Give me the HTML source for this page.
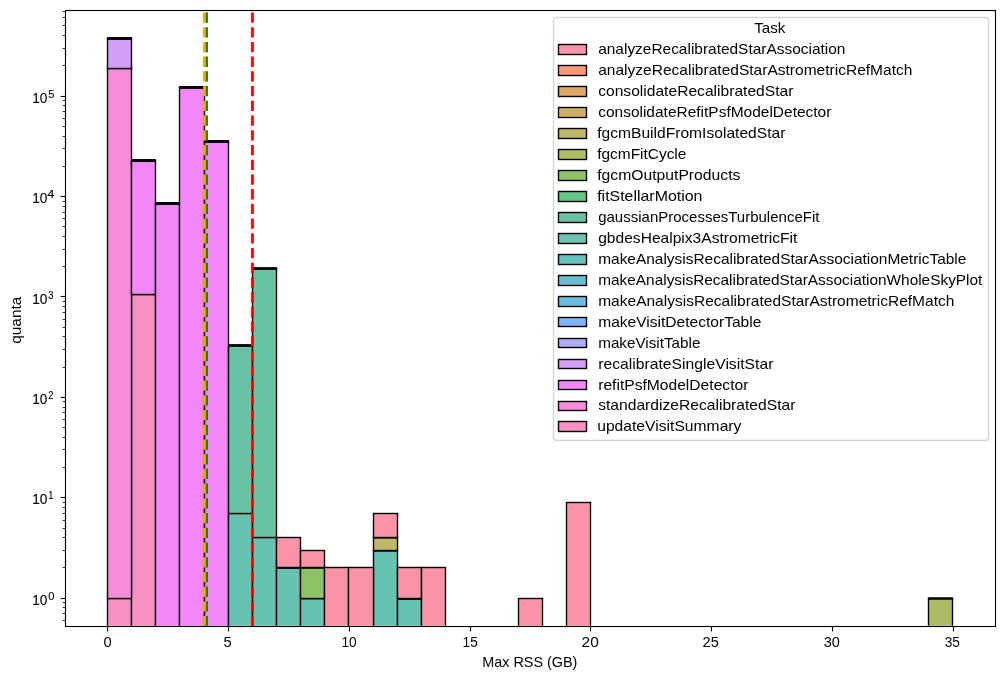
<!DOCTYPE html>
<html><head><meta charset="utf-8"><style>
html,body{margin:0;padding:0;background:#fff;}
body{width:1004px;height:679px;overflow:hidden;font-family:"Liberation Sans", sans-serif;}
svg{display:block;will-change:transform;}
</style></head><body>
<svg width="1004" height="679" viewBox="0 0 1004 679">
<rect width="1004" height="679" fill="#fff"/>
<defs><clipPath id="ac"><rect x="64.64" y="9.72" width="930.00" height="616.00"/></clipPath></defs>
<g clip-path="url(#ac)" stroke="#000" stroke-width="1.389">
<rect x="107.5" y="598.5" width="24.0" height="34.0" fill="rgb(248,144,195)"/>
<rect x="131.5" y="294.5" width="24.0" height="338.0" fill="rgb(248,144,195)"/>
<rect x="107.5" y="68.5" width="24.0" height="530.0" fill="rgb(248,139,220)"/>
<rect x="131.5" y="160.5" width="24.0" height="134.0" fill="rgb(243,135,247)"/>
<rect x="155.5" y="203.5" width="24.0" height="429.0" fill="rgb(243,135,247)"/>
<rect x="179.5" y="87.5" width="25.0" height="545.0" fill="rgb(243,135,247)"/>
<rect x="204.5" y="141.5" width="24.0" height="491.0" fill="rgb(243,135,247)"/>
<rect x="107.5" y="38.5" width="24.0" height="30.0" fill="rgb(211,158,247)"/>
<rect x="228.5" y="513.5" width="24.0" height="119.0" fill="rgb(104,194,180)"/>
<rect x="252.5" y="537.5" width="24.0" height="95.0" fill="rgb(104,194,180)"/>
<rect x="276.5" y="567.5" width="24.0" height="65.0" fill="rgb(104,194,180)"/>
<rect x="300.5" y="598.5" width="24.0" height="34.0" fill="rgb(104,194,180)"/>
<rect x="373.5" y="550.5" width="24.0" height="82.0" fill="rgb(104,194,180)"/>
<rect x="397.5" y="598.5" width="24.0" height="34.0" fill="rgb(104,194,180)"/>
<rect x="228.5" y="345.5" width="24.0" height="168.0" fill="rgb(103,195,164)"/>
<rect x="252.5" y="268.5" width="24.0" height="269.0" fill="rgb(103,195,164)"/>
<rect x="300.5" y="567.5" width="24.0" height="31.0" fill="rgb(142,194,101)"/>
<rect x="928.5" y="598.5" width="24.0" height="34.0" fill="rgb(172,188,101)"/>
<rect x="373.5" y="537.5" width="24.0" height="13.0" fill="rgb(191,183,101)"/>
<rect x="276.5" y="537.5" width="24.0" height="30.0" fill="rgb(249,148,166)"/>
<rect x="300.5" y="550.5" width="24.0" height="17.0" fill="rgb(249,148,166)"/>
<rect x="324.5" y="567.5" width="24.0" height="65.0" fill="rgb(249,148,166)"/>
<rect x="348.5" y="567.5" width="25.0" height="65.0" fill="rgb(249,148,166)"/>
<rect x="373.5" y="513.5" width="24.0" height="24.0" fill="rgb(249,148,166)"/>
<rect x="397.5" y="567.5" width="24.0" height="31.0" fill="rgb(249,148,166)"/>
<rect x="421.5" y="567.5" width="24.0" height="65.0" fill="rgb(249,148,166)"/>
<rect x="518.5" y="598.5" width="24.0" height="34.0" fill="rgb(249,148,166)"/>
<rect x="566.5" y="502.5" width="24.0" height="130.0" fill="rgb(249,148,166)"/>
<rect x="106.80" y="68.0" width="25.40" height="1" fill="#000" stroke="none"/>
<rect x="107.50" y="69.0" width="24.00" height="1" fill="#000" fill-opacity="0.056" stroke="none"/>
<rect x="106.80" y="38.0" width="25.40" height="1" fill="#000" stroke="none"/>
<rect x="107.15" y="37.0" width="24.70" height="1" fill="#000" fill-opacity="0.980" stroke="none"/>
<rect x="107.15" y="39.0" width="24.70" height="1" fill="#000" fill-opacity="0.980" stroke="none"/>
<rect x="130.80" y="294.0" width="25.40" height="1" fill="#000" stroke="none"/>
<rect x="131.50" y="295.0" width="24.00" height="1" fill="#000" fill-opacity="0.056" stroke="none"/>
<rect x="130.80" y="160.0" width="25.40" height="1" fill="#000" stroke="none"/>
<rect x="131.15" y="159.0" width="24.70" height="1" fill="#000" fill-opacity="0.985" stroke="none"/>
<rect x="131.15" y="161.0" width="24.70" height="1" fill="#000" fill-opacity="0.985" stroke="none"/>
<rect x="154.80" y="203.0" width="25.40" height="1" fill="#000" stroke="none"/>
<rect x="155.15" y="202.0" width="24.70" height="1" fill="#000" fill-opacity="0.985" stroke="none"/>
<rect x="155.15" y="204.0" width="24.70" height="1" fill="#000" fill-opacity="0.985" stroke="none"/>
<rect x="178.80" y="87.0" width="26.40" height="1" fill="#000" stroke="none"/>
<rect x="179.15" y="86.0" width="25.70" height="1" fill="#000" fill-opacity="0.985" stroke="none"/>
<rect x="179.15" y="88.0" width="25.70" height="1" fill="#000" fill-opacity="0.985" stroke="none"/>
<rect x="203.80" y="141.0" width="25.40" height="1" fill="#000" stroke="none"/>
<rect x="204.15" y="140.0" width="24.70" height="1" fill="#000" fill-opacity="0.985" stroke="none"/>
<rect x="204.15" y="142.0" width="24.70" height="1" fill="#000" fill-opacity="0.985" stroke="none"/>
<rect x="227.80" y="345.0" width="25.40" height="1" fill="#000" stroke="none"/>
<rect x="228.15" y="344.0" width="24.70" height="1" fill="#000" fill-opacity="0.862" stroke="none"/>
<rect x="228.15" y="346.0" width="24.70" height="1" fill="#000" fill-opacity="0.862" stroke="none"/>
<rect x="251.80" y="268.0" width="25.40" height="1" fill="#000" stroke="none"/>
<rect x="252.15" y="267.0" width="24.70" height="1" fill="#000" fill-opacity="0.862" stroke="none"/>
<rect x="252.15" y="269.0" width="24.70" height="1" fill="#000" fill-opacity="0.862" stroke="none"/>
<rect x="275.80" y="567.0" width="25.40" height="1" fill="#000" stroke="none"/>
<rect x="276.50" y="568.0" width="24.00" height="1" fill="#000" fill-opacity="0.862" stroke="none"/>
<rect x="299.80" y="598.0" width="25.40" height="1" fill="#000" stroke="none"/>
<rect x="300.50" y="599.0" width="24.00" height="1" fill="#000" fill-opacity="0.282" stroke="none"/>
<rect x="299.80" y="567.0" width="25.40" height="1" fill="#000" stroke="none"/>
<rect x="300.50" y="568.0" width="24.00" height="1" fill="#000" fill-opacity="0.685" stroke="none"/>
<rect x="372.80" y="550.0" width="25.40" height="1" fill="#000" stroke="none"/>
<rect x="373.50" y="551.0" width="24.00" height="1" fill="#000" fill-opacity="0.586" stroke="none"/>
<rect x="372.80" y="537.0" width="25.40" height="1" fill="#000" stroke="none"/>
<rect x="373.50" y="538.0" width="24.00" height="1" fill="#000" fill-opacity="0.455" stroke="none"/>
<rect x="396.80" y="598.0" width="25.40" height="1" fill="#000" stroke="none"/>
<rect x="397.50" y="599.0" width="24.00" height="1" fill="#000" fill-opacity="0.862" stroke="none"/>
<rect x="927.80" y="598.0" width="25.40" height="1" fill="#000" stroke="none"/>
<rect x="928.15" y="597.0" width="24.70" height="1" fill="#000" fill-opacity="0.685" stroke="none"/>
<rect x="928.15" y="599.0" width="24.70" height="1" fill="#000" fill-opacity="0.685" stroke="none"/>
</g>
<g clip-path="url(#ac)" stroke-width="2.778" stroke-dasharray="10.278 4.444" fill="none">
<line x1="206.5" y1="626.32" x2="206.5" y2="9.72" stroke="#008000"/>
<line x1="204.5" y1="626.32" x2="204.5" y2="9.72" stroke="#FFA500"/>
<line x1="252.5" y1="626.32" x2="252.5" y2="9.72" stroke="#FF0000"/>
</g>
<g stroke="#000" stroke-width="1.111" fill="none" stroke-linecap="square">
<rect x="65.5" y="10.5" width="930.0" height="616.0"/>
</g>
<g stroke="#000" stroke-width="1.111">
<line x1="107.5" y1="626.5" x2="107.5" y2="631.36"/>
<line x1="228.5" y1="626.5" x2="228.5" y2="631.36"/>
<line x1="349.5" y1="626.5" x2="349.5" y2="631.36"/>
<line x1="470.5" y1="626.5" x2="470.5" y2="631.36"/>
<line x1="590.5" y1="626.5" x2="590.5" y2="631.36"/>
<line x1="711.5" y1="626.5" x2="711.5" y2="631.36"/>
<line x1="832.5" y1="626.5" x2="832.5" y2="631.36"/>
<line x1="953.5" y1="626.5" x2="953.5" y2="631.36"/>
<line x1="65.5" y1="598.5" x2="60.64" y2="598.5"/>
<line x1="65.5" y1="497.5" x2="60.64" y2="497.5"/>
<line x1="65.5" y1="397.5" x2="60.64" y2="397.5"/>
<line x1="65.5" y1="296.5" x2="60.64" y2="296.5"/>
<line x1="65.5" y1="196.5" x2="60.64" y2="196.5"/>
<line x1="65.5" y1="96.5" x2="60.64" y2="96.5"/>
</g>
<g stroke="#000" stroke-width="0.833">
<line x1="65.5" y1="620.5" x2="62.72" y2="620.5"/>
<line x1="65.5" y1="613.5" x2="62.72" y2="613.5"/>
<line x1="65.5" y1="607.5" x2="62.72" y2="607.5"/>
<line x1="65.5" y1="602.5" x2="62.72" y2="602.5"/>
<line x1="65.5" y1="567.5" x2="62.72" y2="567.5"/>
<line x1="65.5" y1="550.5" x2="62.72" y2="550.5"/>
<line x1="65.5" y1="537.5" x2="62.72" y2="537.5"/>
<line x1="65.5" y1="528.5" x2="62.72" y2="528.5"/>
<line x1="65.5" y1="520.5" x2="62.72" y2="520.5"/>
<line x1="65.5" y1="513.5" x2="62.72" y2="513.5"/>
<line x1="65.5" y1="507.5" x2="62.72" y2="507.5"/>
<line x1="65.5" y1="502.5" x2="62.72" y2="502.5"/>
<line x1="65.5" y1="467.5" x2="62.72" y2="467.5"/>
<line x1="65.5" y1="449.5" x2="62.72" y2="449.5"/>
<line x1="65.5" y1="437.5" x2="62.72" y2="437.5"/>
<line x1="65.5" y1="427.5" x2="62.72" y2="427.5"/>
<line x1="65.5" y1="419.5" x2="62.72" y2="419.5"/>
<line x1="65.5" y1="412.5" x2="62.72" y2="412.5"/>
<line x1="65.5" y1="407.5" x2="62.72" y2="407.5"/>
<line x1="65.5" y1="401.5" x2="62.72" y2="401.5"/>
<line x1="65.5" y1="367.5" x2="62.72" y2="367.5"/>
<line x1="65.5" y1="349.5" x2="62.72" y2="349.5"/>
<line x1="65.5" y1="336.5" x2="62.72" y2="336.5"/>
<line x1="65.5" y1="327.5" x2="62.72" y2="327.5"/>
<line x1="65.5" y1="319.5" x2="62.72" y2="319.5"/>
<line x1="65.5" y1="312.5" x2="62.72" y2="312.5"/>
<line x1="65.5" y1="306.5" x2="62.72" y2="306.5"/>
<line x1="65.5" y1="301.5" x2="62.72" y2="301.5"/>
<line x1="65.5" y1="266.5" x2="62.72" y2="266.5"/>
<line x1="65.5" y1="249.5" x2="62.72" y2="249.5"/>
<line x1="65.5" y1="236.5" x2="62.72" y2="236.5"/>
<line x1="65.5" y1="226.5" x2="62.72" y2="226.5"/>
<line x1="65.5" y1="218.5" x2="62.72" y2="218.5"/>
<line x1="65.5" y1="212.5" x2="62.72" y2="212.5"/>
<line x1="65.5" y1="206.5" x2="62.72" y2="206.5"/>
<line x1="65.5" y1="201.5" x2="62.72" y2="201.5"/>
<line x1="65.5" y1="166.5" x2="62.72" y2="166.5"/>
<line x1="65.5" y1="148.5" x2="62.72" y2="148.5"/>
<line x1="65.5" y1="136.5" x2="62.72" y2="136.5"/>
<line x1="65.5" y1="126.5" x2="62.72" y2="126.5"/>
<line x1="65.5" y1="118.5" x2="62.72" y2="118.5"/>
<line x1="65.5" y1="111.5" x2="62.72" y2="111.5"/>
<line x1="65.5" y1="105.5" x2="62.72" y2="105.5"/>
<line x1="65.5" y1="100.5" x2="62.72" y2="100.5"/>
<line x1="65.5" y1="65.5" x2="62.72" y2="65.5"/>
<line x1="65.5" y1="48.5" x2="62.72" y2="48.5"/>
<line x1="65.5" y1="35.5" x2="62.72" y2="35.5"/>
<line x1="65.5" y1="25.5" x2="62.72" y2="25.5"/>
<line x1="65.5" y1="17.5" x2="62.72" y2="17.5"/>
<line x1="65.5" y1="11.5" x2="62.72" y2="11.5"/>
</g>
<rect x="553.5" y="17.5" width="435.0" height="423.0" rx="2.78" ry="2.78" fill="rgba(255,255,255,0.8)" stroke="rgb(214,214,214)" stroke-width="1.389"/>
<g stroke="#000" stroke-width="1.389">
<rect x="558.5" y="44.5" width="28.0" height="10.0" fill="rgb(249,148,166)"/>
<rect x="558.5" y="65.5" width="28.0" height="10.0" fill="rgb(249,152,119)"/>
<rect x="558.5" y="86.5" width="28.0" height="10.0" fill="rgb(226,168,101)"/>
<rect x="558.5" y="107.5" width="28.0" height="10.0" fill="rgb(207,176,101)"/>
<rect x="558.5" y="128.5" width="28.0" height="10.0" fill="rgb(191,183,101)"/>
<rect x="558.5" y="149.5" width="28.0" height="10.0" fill="rgb(172,188,101)"/>
<rect x="558.5" y="170.5" width="28.0" height="10.0" fill="rgb(142,194,101)"/>
<rect x="558.5" y="191.5" width="28.0" height="10.0" fill="rgb(101,197,135)"/>
<rect x="558.5" y="212.5" width="28.0" height="10.0" fill="rgb(103,195,164)"/>
<rect x="558.5" y="233.5" width="28.0" height="10.0" fill="rgb(104,194,180)"/>
<rect x="558.5" y="254.5" width="28.0" height="10.0" fill="rgb(104,193,193)"/>
<rect x="558.5" y="275.5" width="28.0" height="10.0" fill="rgb(105,191,206)"/>
<rect x="558.5" y="296.5" width="28.0" height="10.0" fill="rgb(107,189,223)"/>
<rect x="558.5" y="317.5" width="28.0" height="9.0" fill="rgb(126,183,247)"/>
<rect x="558.5" y="338.5" width="28.0" height="9.0" fill="rgb(178,172,247)"/>
<rect x="558.5" y="359.5" width="28.0" height="9.0" fill="rgb(211,158,247)"/>
<rect x="558.5" y="380.5" width="28.0" height="9.0" fill="rgb(243,135,247)"/>
<rect x="558.5" y="401.5" width="28.0" height="9.0" fill="rgb(248,139,220)"/>
<rect x="558.5" y="421.5" width="28.0" height="10.0" fill="rgb(248,144,195)"/>
</g>
<g font-family="&quot;Liberation Sans&quot;, sans-serif" fill="#000">
<g fill="#000">
<text x="103.42" y="647.00" font-size="14.40" textLength="8.20" lengthAdjust="spacingAndGlyphs">0</text>
<text x="223.46" y="647.00" font-size="14.40" textLength="8.20" lengthAdjust="spacingAndGlyphs">5</text>
<text x="341.50" y="647.00" font-size="14.40" textLength="15.20" lengthAdjust="spacingAndGlyphs">10</text>
<text x="462.54" y="647.00" font-size="14.40" textLength="15.20" lengthAdjust="spacingAndGlyphs">15</text>
<text x="581.58" y="647.00" font-size="14.40" textLength="17.20" lengthAdjust="spacingAndGlyphs">20</text>
<text x="702.62" y="647.00" font-size="14.40" textLength="16.20" lengthAdjust="spacingAndGlyphs">25</text>
<text x="823.66" y="647.00" font-size="14.40" textLength="16.20" lengthAdjust="spacingAndGlyphs">30</text>
<text x="944.70" y="647.00" font-size="14.40" textLength="15.20" lengthAdjust="spacingAndGlyphs">35</text>
</g><g fill="#000" stroke="#000" stroke-width="0.1">
<text x="32.20" y="605.00" font-size="14.40" textLength="15.20" lengthAdjust="spacingAndGlyphs">10</text>
<text x="48.20" y="600.00" font-size="10.08" textLength="6.20" lengthAdjust="spacingAndGlyphs">0</text>
<text x="32.20" y="504.00" font-size="14.40" textLength="15.20" lengthAdjust="spacingAndGlyphs">10</text>
<text x="48.20" y="499.00" font-size="10.08" textLength="5.20" lengthAdjust="spacingAndGlyphs">1</text>
<text x="32.20" y="404.00" font-size="14.40" textLength="15.20" lengthAdjust="spacingAndGlyphs">10</text>
<text x="48.20" y="399.00" font-size="10.08" textLength="5.20" lengthAdjust="spacingAndGlyphs">2</text>
<text x="32.20" y="304.00" font-size="14.40" textLength="15.20" lengthAdjust="spacingAndGlyphs">10</text>
<text x="48.20" y="299.00" font-size="10.08" textLength="5.20" lengthAdjust="spacingAndGlyphs">3</text>
<text x="32.20" y="203.00" font-size="14.40" textLength="15.20" lengthAdjust="spacingAndGlyphs">10</text>
<text x="47.20" y="198.00" font-size="10.08" textLength="7.20" lengthAdjust="spacingAndGlyphs">4</text>
<text x="32.20" y="103.00" font-size="14.40" textLength="15.20" lengthAdjust="spacingAndGlyphs">10</text>
<text x="48.20" y="98.00" font-size="10.08" textLength="6.20" lengthAdjust="spacingAndGlyphs">5</text>
</g>
<text x="482.20" y="666.50" font-size="14.40" textLength="95.20" lengthAdjust="spacingAndGlyphs">Max RSS (GB)</text>
<g fill="#000">
<text transform="translate(21.00,343.80) rotate(-90)" font-size="14.40" textLength="47.20" lengthAdjust="spacingAndGlyphs">quanta</text>
</g>
<text x="754.20" y="33.00" font-size="14.40" textLength="31.20" lengthAdjust="spacingAndGlyphs">Task</text>
<text x="598.20" y="54.00" font-size="14.40" textLength="247.20" lengthAdjust="spacingAndGlyphs">analyzeRecalibratedStarAssociation</text>
<text x="598.20" y="75.00" font-size="14.40" textLength="314.20" lengthAdjust="spacingAndGlyphs">analyzeRecalibratedStarAstrometricRefMatch</text>
<text x="598.20" y="96.00" font-size="14.40" textLength="195.20" lengthAdjust="spacingAndGlyphs">consolidateRecalibratedStar</text>
<text x="598.20" y="117.00" font-size="14.40" textLength="233.20" lengthAdjust="spacingAndGlyphs">consolidateRefitPsfModelDetector</text>
<text x="597.20" y="138.00" font-size="14.40" textLength="188.20" lengthAdjust="spacingAndGlyphs">fgcmBuildFromIsolatedStar</text>
<text x="597.20" y="159.00" font-size="14.40" textLength="89.20" lengthAdjust="spacingAndGlyphs">fgcmFitCycle</text>
<text x="597.20" y="180.00" font-size="14.40" textLength="143.20" lengthAdjust="spacingAndGlyphs">fgcmOutputProducts</text>
<text x="597.20" y="201.00" font-size="14.40" textLength="105.20" lengthAdjust="spacingAndGlyphs">fitStellarMotion</text>
<text x="598.20" y="222.00" font-size="14.40" textLength="221.20" lengthAdjust="spacingAndGlyphs">gaussianProcessesTurbulenceFit</text>
<text x="598.20" y="243.00" font-size="14.40" textLength="199.20" lengthAdjust="spacingAndGlyphs">gbdesHealpix3AstrometricFit</text>
<text x="598.20" y="264.00" font-size="14.40" textLength="368.20" lengthAdjust="spacingAndGlyphs">makeAnalysisRecalibratedStarAssociationMetricTable</text>
<text x="598.20" y="285.00" font-size="14.40" textLength="384.20" lengthAdjust="spacingAndGlyphs">makeAnalysisRecalibratedStarAssociationWholeSkyPlot</text>
<text x="598.20" y="306.00" font-size="14.40" textLength="356.20" lengthAdjust="spacingAndGlyphs">makeAnalysisRecalibratedStarAstrometricRefMatch</text>
<text x="598.20" y="327.00" font-size="14.40" textLength="163.20" lengthAdjust="spacingAndGlyphs">makeVisitDetectorTable</text>
<text x="598.20" y="348.00" font-size="14.40" textLength="102.20" lengthAdjust="spacingAndGlyphs">makeVisitTable</text>
<text x="598.20" y="369.00" font-size="14.40" textLength="175.20" lengthAdjust="spacingAndGlyphs">recalibrateSingleVisitStar</text>
<text x="598.20" y="390.00" font-size="14.40" textLength="150.20" lengthAdjust="spacingAndGlyphs">refitPsfModelDetector</text>
<text x="598.20" y="410.00" font-size="14.40" textLength="197.20" lengthAdjust="spacingAndGlyphs">standardizeRecalibratedStar</text>
<text x="597.20" y="431.00" font-size="14.40" textLength="144.20" lengthAdjust="spacingAndGlyphs">updateVisitSummary</text>
</g>
</svg>
</body></html>
